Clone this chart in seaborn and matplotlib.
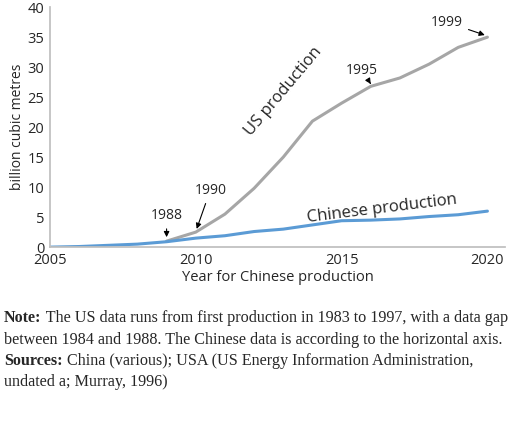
import matplotlib
matplotlib.use("Agg")
import matplotlib.pyplot as plt
import seaborn as sns

YEARS = list(range(2005, 2021))
CHINA = [0.0, 0.1, 0.3, 0.5, 0.9, 1.5, 1.9, 2.6, 3.0, 3.7, 4.4, 4.5, 4.7, 5.1, 5.4, 6.0]
US_YEARS = list(range(2009, 2021))
US = [1.0, 2.5, 5.5, 9.8, 15.0, 21.0, 24.0, 26.8, 28.2, 30.5, 33.3, 35.0]

sns.set_theme(style="white")
plt.rcParams["font.family"] = ["Open Sans", "DejaVu Sans"]

fig = plt.figure(figsize=(5.2, 4.21), dpi=100)
ax = fig.add_axes([0.096, 0.413, 0.875, 0.57])
sns.lineplot(x=US_YEARS, y=US, color="#a6a6a6", linewidth=2.2, ax=ax)
sns.lineplot(x=YEARS, y=CHINA, color="#5b9bd5", linewidth=2.2, ax=ax)
ax.set_xlim(2005, 2020.6)
ax.set_ylim(0, 40)
ax.set_xticks([2005, 2010, 2015, 2020])
ax.set_yticks(range(0, 41, 5))
ax.tick_params(labelsize=10.5, length=0, pad=4)
for s in ["top", "right"]:
    ax.spines[s].set_visible(False)
ax.spines["left"].set_color("#bfbfbf")
ax.spines["bottom"].set_color("#bfbfbf")
ax.set_xlabel("Year for Chinese production", fontsize=10.5, labelpad=2)
ax.set_ylabel("billion cubic metres", fontsize=10, labelpad=2)

arr = dict(arrowstyle="-|>", color="black", lw=0.8, mutation_scale=8)
for lbl, xt, yt, xp, yp in [("1999", 2018.6, 37.5, 2020, 35.2),
                             ("1995", 2015.7, 29.5, 2016, 27.2),
                             ("1990", 2010.5, 9.5, 2010, 2.6),
                             ("1988", 2009.0, 5.3, 2009, 1.2)]:
    ax.annotate(lbl, xy=(xp, yp), xytext=(xt, yt), fontsize=10,
                ha="center", va="center", arrowprops=arr)
ax.text(2013.0, 26.0, "US production", fontsize=12, rotation=50,
        ha="center", va="center")
ax.text(2016.4, 6.4, "Chinese production", fontsize=12, rotation=7,
        ha="center", va="center")

serif = ["Liberation Serif", "DejaVu Serif"]
lines = [
    ("Note:", " The US data runs from first production in 1983 to 1997, with a data gap"),
    ("", "between 1984 and 1988. The Chinese data is according to the horizontal axis."),
    ("Sources:", " China (various); USA (US Energy Information Administration,"),
    ("", "undated a; Murray, 1996)"),
]
fs = 11.6
for i, (b, rest) in enumerate(lines):
    y = 1 - (322 + i * 21.5) / 421
    if b:
        t = fig.text(0.008, y, b, fontsize=fs, fontweight="bold",
                     family=serif, va="baseline")
        fig.canvas.draw()
        ax.annotate(rest, xy=(1, 0), xycoords=t, va="bottom", fontsize=fs,
                    family=serif, annotation_clip=False)
    else:
        fig.text(0.008, y, rest, fontsize=fs, family=serif, va="baseline")

fig.savefig("out.png", dpi=100)
